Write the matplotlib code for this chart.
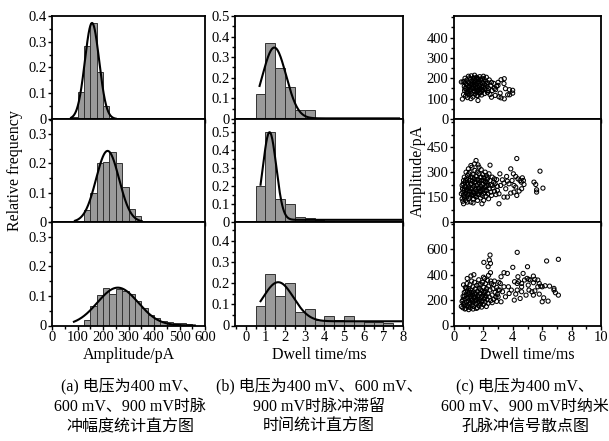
import numpy as np
import matplotlib
matplotlib.use("Agg")
import matplotlib.pyplot as plt
from matplotlib.ticker import MultipleLocator, FixedLocator, FuncFormatter

plt.rcParams['font.family'] = ['Liberation Serif', 'Noto Sans CJK SC']
plt.rcParams['font.size'] = 10

# ============================================================
# DATA
# ============================================================

# (a) amplitude histograms, bin width 25 pA
amp_w = 25
amp400_edges = [75, 100, 125, 150, 175, 200]
amp400_freq  = [0.006, 0.106, 0.284, 0.373, 0.183, 0.049]
amp600_edges = [125, 150, 175, 200, 225, 250, 275, 300, 325]
amp600_freq  = [0.042, 0.10, 0.20, 0.205, 0.24, 0.20, 0.12, 0.045, 0.02]
amp900_edges = [125, 150, 175, 200, 225, 250, 275, 300, 325, 350, 375,
                400, 425, 450, 475, 500, 525]
amp900_freq  = [0.018, 0.066, 0.104, 0.127, 0.107, 0.124, 0.118, 0.107,
                0.084, 0.058, 0.037, 0.025, 0.016, 0.012, 0.010, 0.008, 0.006]

# gaussian fits: (y0, A, mu, sigma, x_start, x_end)
amp400_fit = (0.0, 0.373, 157, 28, 75, 250)
amp600_fit = (0.0, 0.243, 218, 45, 90, 352)
amp900_fit = (0.0, 0.128, 258, 80, 86, 560)

# (b) dwell time histograms, bin width 0.5 ms
dw_w = 0.5
dw400_edges = [0.5, 1.0, 1.5, 2.0, 2.5, 3.0]
dw400_freq  = [0.122, 0.37, 0.248, 0.153, 0.042, 0.042]
dw600_edges = [0.5, 1.0, 1.5, 2.0, 2.5, 3.0, 3.5, 4.0]
dw600_freq  = [0.20, 0.496, 0.125, 0.098, 0.027, 0.02, 0.012, 0.008]
dw900_edges = [0.5, 1.0, 1.5, 2.0, 2.5, 3.0, 3.5, 4.0, 4.5, 5.0, 5.5,
               6.0, 6.5, 7.0]
dw900_freq  = [0.091, 0.243, 0.142, 0.203, 0.066, 0.077, 0.025, 0.047,
               0.025, 0.043, 0.02, 0.015, 0.015, 0.01]

dw400_fit = (0.003, 0.344, 1.45, 0.60, 0.7, 7.8)
dw600_fit = (0.012, 0.485, 1.21, 0.34, 0.75, 7.9)
dw900_fit = (0.020, 0.185, 1.65, 0.78, 0.75, 7.9)

# (c) scatter: (dwell time ms, amplitude pA)
sc400_pts = [
    (0.62, 182), (0.65, 120), (0.7, 160), (0.72, 140), (0.75, 200), (0.78, 112),
    (0.8, 175), (0.82, 150), (0.85, 128), (0.88, 192), (0.9, 165), (0.92, 105),
    (0.95, 145), (0.98, 210), (1.0, 180), (1.02, 135), (1.05, 158), (1.08, 118),
    (1.1, 195), (1.12, 170), (1.15, 142), (1.18, 212), (1.2, 125), (1.22, 185),
    (1.25, 152), (1.28, 108), (1.3, 200), (1.32, 165), (1.35, 138), (1.38, 178),
    (1.4, 215), (1.42, 122), (1.45, 190), (1.48, 148), (1.5, 168), (1.52, 205),
    (1.55, 132), (1.58, 175), (1.6, 155), (1.62, 115), (1.65, 195), (1.68, 142),
    (1.7, 182), (1.72, 162), (1.75, 208), (1.78, 128), (1.8, 172), (1.82, 150),
    (1.85, 190), (1.88, 118), (1.9, 160), (1.92, 200), (1.95, 140), (1.98, 178),
    (2.0, 155), (2.05, 195), (2.08, 125), (2.1, 168), (2.15, 185), (2.18, 145),
    (2.2, 205), (2.25, 160), (2.28, 130), (2.3, 178), (2.35, 150), (2.4, 192),
    (2.45, 120), (2.5, 165), (2.55, 180), (2.6, 140), (1.05, 202), (1.25, 172),
    (1.35, 190), (0.85, 170), (1.55, 115), (1.15, 100), (0.95, 128), (1.7, 128),
    (2.0, 210), (1.45, 160), (1.6, 200), (0.7, 185), (1.85, 135), (2.7, 175),
    (2.75, 150), (2.9, 160), (3.0, 180), (3.2, 193), (3.4, 174), (3.5, 149),
    (3.77, 144), (3.99, 141), (3.79, 119), (3.99, 127), (3.06, 109), (3.2, 104),
    (3.42, 99), (3.65, 119), (3.14, 127), (2.8, 116), (2.55, 107), (2.83, 144),
    (2.99, 165), (3.42, 198), (0.57, 98), (0.5, 182), (1.63, 91),
    (0.75, 150), (0.9, 135), (1.0, 160), (1.1, 145), (1.2, 170), (1.3, 150),
    (1.4, 135), (1.5, 185), (1.6, 140), (1.7, 165), (1.8, 195), (1.9, 145),
    (2.1, 150), (2.2, 175), (2.3, 140), (1.0, 125), (1.4, 200), (1.75, 150),
]

sc600_pts = [
    (0.5, 170), (0.55, 140), (0.58, 200), (0.6, 125), (0.62, 230), (0.65, 160),
    (0.68, 190), (0.7, 270), (0.72, 145), (0.75, 215), (0.78, 175), (0.8, 250),
    (0.8, 130), (0.82, 300), (0.85, 195), (0.88, 155), (0.9, 235), (0.92, 280),
    (0.95, 170), (0.98, 320), (1.0, 140), (1.0, 210), (1.02, 260), (1.05, 185),
    (1.08, 300), (1.1, 150), (1.12, 230), (1.15, 120), (1.15, 270), (1.18, 200),
    (1.2, 165), (1.22, 330), (1.25, 245), (1.28, 180), (1.3, 285), (1.32, 140),
    (1.35, 215), (1.38, 260), (1.4, 170), (1.42, 310), (1.45, 195), (1.48, 240),
    (1.5, 150), (1.5, 275), (1.52, 220), (1.55, 185), (1.58, 300), (1.6, 130),
    (1.62, 255), (1.65, 205), (1.68, 165), (1.7, 290), (1.72, 235), (1.75, 180),
    (1.78, 270), (1.8, 145), (1.82, 215), (1.85, 315), (1.88, 250), (1.9, 190),
    (1.92, 160), (1.95, 285), (1.98, 230), (2.0, 200), (2.02, 130), (2.05, 265),
    (2.08, 175), (2.1, 245), (2.12, 300), (2.15, 210), (2.18, 155), (2.2, 280),
    (2.22, 190), (2.25, 235), (2.28, 260), (2.3, 170), (2.32, 220), (2.35, 140),
    (2.38, 290), (2.4, 200), (2.45, 250), (2.5, 180), (2.52, 225), (2.55, 160),
    (2.6, 270), (2.65, 205), (2.7, 240), (2.75, 185), (2.8, 230), (2.85, 165),
    (2.9, 255), (0.65, 110), (0.9, 120), (1.3, 115), (1.9, 110), (0.75, 240),
    (1.0, 290), (1.25, 205), (1.45, 160), (1.7, 200), (2.0, 170), (0.55, 220),
    (1.1, 250), (1.35, 175), (0.85, 260), (1.6, 225), (1.95, 195), (2.25, 270),
    (1.15, 340), (1.4, 350), (1.7, 330), (2.6, 220), (2.75, 260), (2.95, 215),
    (1.5, 370), (1.63, 344), (2.45, 342), (4.27, 382), (3.86, 320), (3.12, 290),
    (4.04, 290), (4.2, 274), (4.35, 260), (4.49, 250), (4.58, 240), (4.65, 266),
    (4.2, 210), (4.27, 160), (4.43, 186), (4.08, 180), (3.86, 174), (3.63, 150),
    (3.52, 200), (3.4, 234), (3.17, 220), (3.29, 254), (3.06, 110), (3.06, 170),
    (2.95, 190), (4.76, 226), (4.6, 200), (4.72, 250), (5.44, 240), (5.56, 226),
    (5.62, 194), (5.62, 180), (5.85, 306), (6.05, 204), (3.63, 246), (3.58, 274),
    (3.74, 230), (3.95, 250), (4.08, 220), (3.4, 150),
    (0.6, 180), (0.7, 150), (0.8, 210), (0.9, 185), (1.0, 165), (1.1, 200),
    (1.2, 230), (1.3, 160), (1.4, 240), (1.5, 200), (1.6, 170), (1.7, 250),
    (1.8, 190), (1.9, 225), (2.0, 250), (2.1, 190), (2.2, 220), (0.65, 250),
    (0.95, 225), (1.25, 270), (1.55, 255), (1.85, 270), (2.15, 240), (0.7, 200),
]

sc900_pts = [
    (0.5, 150), (0.55, 190), (0.6, 140), (0.62, 230), (0.65, 170), (0.7, 260),
    (0.72, 155), (0.75, 210), (0.78, 300), (0.8, 135), (0.82, 240), (0.85, 185),
    (0.88, 330), (0.9, 160), (0.92, 270), (0.95, 215), (0.98, 145), (1.0, 290),
    (1.0, 195), (1.02, 250), (1.05, 170), (1.08, 320), (1.1, 225), (1.12, 140),
    (1.15, 280), (1.18, 200), (1.2, 350), (1.22, 160), (1.25, 240), (1.28, 305),
    (1.3, 185), (1.32, 265), (1.35, 150), (1.38, 220), (1.4, 340), (1.42, 195),
    (1.45, 290), (1.48, 170), (1.5, 250), (1.52, 135), (1.55, 315), (1.58, 210),
    (1.6, 270), (1.62, 180), (1.65, 235), (1.68, 360), (1.7, 155), (1.72, 290),
    (1.75, 205), (1.78, 250), (1.8, 170), (1.82, 325), (1.85, 225), (1.88, 145),
    (1.9, 275), (1.92, 195), (1.95, 340), (1.98, 240), (2.0, 165), (2.02, 300),
    (2.05, 210), (2.08, 370), (2.1, 260), (2.12, 185), (2.15, 330), (2.18, 230),
    (2.2, 150), (2.22, 290), (2.25, 205), (2.28, 355), (2.3, 250), (2.32, 175),
    (2.35, 310), (2.4, 225), (2.45, 280), (2.5, 195), (2.55, 330), (2.6, 240),
    (2.65, 290), (2.7, 205), (2.75, 350), (2.8, 260), (2.85, 225), (2.9, 300),
    (2.95, 245), (0.65, 320), (0.9, 370), (1.15, 390), (1.35, 400), (0.75, 130),
    (1.0, 125), (1.3, 130), (1.6, 140), (2.0, 380), (2.35, 395), (1.45, 230),
    (1.85, 190), (2.15, 270), (1.05, 260), (0.85, 290), (1.7, 320), (2.5, 350),
    (2.7, 320), (3.0, 280), (3.05, 340), (2.6, 180), (2.9, 190),
    (2.45, 555), (2.4, 516), (2.03, 497), (2.32, 463), (2.48, 489), (2.48, 416),
    (4.3, 576), (6.3, 508), (7.1, 521), (4.0, 458), (5.0, 463), (3.4, 416),
    (3.63, 410), (3.2, 384), (4.12, 345), (4.3, 331), (4.4, 345), (4.6, 331),
    (4.8, 358), (4.97, 371), (5.1, 363), (5.2, 358), (5.4, 389), (5.5, 363),
    (5.7, 358), (5.8, 331), (5.4, 337), (5.7, 305), (5.9, 310), (6.0, 305),
    (6.2, 313), (6.5, 310), (6.8, 292), (6.9, 258), (7.1, 239), (6.8, 279),
    (6.4, 192), (6.1, 218), (5.8, 247), (5.4, 239), (5.1, 279), (4.9, 239),
    (4.6, 266), (4.5, 213), (4.2, 247), (4.1, 200), (4.3, 279), (3.9, 279),
    (3.7, 305), (3.75, 252), (3.5, 226), (3.3, 266), (3.4, 305), (3.15, 331),
    (3.1, 279), (3.0, 226), (3.2, 187), (6.0, 187), (5.3, 266), (5.5, 273),
    (5.05, 318), (4.6, 305), (4.35, 384), (4.7, 410),
    (0.6, 200), (0.7, 180), (0.8, 270), (0.9, 220), (1.0, 240), (1.1, 180),
    (1.2, 260), (1.3, 220), (1.4, 250), (1.5, 200), (1.6, 230), (1.7, 190),
    (1.8, 280), (1.9, 230), (2.0, 260), (2.1, 220), (0.7, 230), (1.25, 200),
]

captions = [
    "(a) 电压为400 mV、\n600 mV、900 mV时脉\n冲幅度统计直方图",
    "(b) 电压为400 mV、600 mV、\n900 mV时脉冲滞留\n时间统计直方图",
    "(c) 电压为400 mV、\n600 mV、900 mV时纳米\n孔脉冲信号散点图",
]

# labelled y ticks of each scatter panel
sc400_yticks = [0, 100, 200, 300, 400]
sc600_yticks = [0, 150, 300, 450]
sc900_yticks = [0, 200, 400, 600]

# ============================================================
# LAYOUT (pixel boxes of the reference)
# ============================================================

W, H = 609, 441
fig = plt.figure(figsize=(W / 100, H / 100), dpi=100)

rows_px = [(16, 119), (119, 222), (222, 325.5)]
cols_px = [(52, 205), (235, 403), (454, 601)]


def make_ax(col, row):
    x0, x1 = cols_px[col]
    y0, y1 = rows_px[row]
    return fig.add_axes([x0 / W, 1 - y1 / H, (x1 - x0) / W, (y1 - y0) / H])


fmt = FuncFormatter(lambda v, p: '%g' % round(v, 3))


def style(ax, xlim, xmaj, xmin, ylim, ymaj, ymin, bottom):
    ax.set_xlim(*xlim)
    ax.set_ylim(*ylim)
    ax.xaxis.set_major_locator(MultipleLocator(xmaj))
    ax.xaxis.set_minor_locator(MultipleLocator(xmin))
    if isinstance(ymaj, list):
        ax.yaxis.set_major_locator(FixedLocator(ymaj))
    else:
        ax.yaxis.set_major_locator(MultipleLocator(ymaj))
    ax.yaxis.set_minor_locator(MultipleLocator(ymin))
    ax.yaxis.set_major_formatter(fmt)
    ax.xaxis.set_major_formatter(fmt)
    ax.tick_params(which='both', direction='out', top=False, right=False,
                   labelsize=10.5, pad=1, width=1)
    ax.tick_params(which='major', length=3)
    ax.tick_params(which='minor', length=2)
    if not bottom:
        ax.tick_params(axis='x', labelbottom=False)
    for s in ax.spines.values():
        s.set_linewidth(1.3)


def draw_hist(ax, edges, freq, w, fit):
    ax.bar(edges, freq, width=w, align='edge', color='#9a9a9a',
           edgecolor='#333333', linewidth=0.7)
    y0, A, mu, sig, xs, xe = fit
    xx = np.linspace(xs, xe, 300)
    ax.plot(xx, y0 + A * np.exp(-(xx - mu) ** 2 / (2 * sig ** 2)),
            color='black', linewidth=1.5)


# ---------------- (a) ----------------
amp_sets = [(amp400_edges, amp400_freq, amp400_fit, 0.4),
            (amp600_edges, amp600_freq, amp600_fit, 0.352),
            (amp900_edges, amp900_freq, amp900_fit, 0.35)]
for r, (e, f, fit, ytop) in enumerate(amp_sets):
    ax = make_ax(0, r)
    draw_hist(ax, e, f, amp_w, fit)
    style(ax, (0, 600), 100, 50, (0, ytop), 0.1, 0.05, r == 2)
    if r == 1:
        ax.set_ylabel('Relative frequency', fontsize=11.5)
        ax.yaxis.set_label_coords(-0.19, 0.5)
    if r == 2:
        ax.set_xlabel('Amplitude/pA', fontsize=11.5, labelpad=2)

# ---------------- (b) ----------------
dw_sets = [(dw400_edges, dw400_freq, dw400_fit, 0.5),
           (dw600_edges, dw600_freq, dw600_fit, 0.57),
           (dw900_edges, dw900_freq, dw900_fit, 0.49)]
for r, (e, f, fit, ytop) in enumerate(dw_sets):
    ax = make_ax(1, r)
    draw_hist(ax, e, f, dw_w, fit)
    style(ax, (-0.55, 8), 1, 0.5, (0, ytop), 0.1, 0.05, r == 2)
    if r == 2:
        ax.set_xlabel('Dwell time/ms', fontsize=11.5, labelpad=2)

# ---------------- (c) ----------------
sc_sets = [(sc400_pts, 506, sc400_yticks, 50),
           (sc600_pts, 620, sc600_yticks, 75),
           (sc900_pts, 815, sc900_yticks, 100)]
for r, (pts, ytop, yt, ymin) in enumerate(sc_sets):
    ax = make_ax(2, r)
    p = np.array(pts)
    ax.scatter(p[:, 0], p[:, 1], s=9, facecolors='none', edgecolors='black',
               linewidths=0.75)
    style(ax, (0, 10), 2, 1, (0, ytop), yt, ymin, r == 2)
    if r == 1:
        ax.set_ylabel('Amplitude/pA', fontsize=11.5)
        ax.yaxis.set_label_coords(-0.19, 0.5)
    if r == 2:
        ax.set_xlabel('Dwell time/ms', fontsize=11.5, labelpad=2)

# ---------------- captions ----------------
for cx, txt in zip([130, 319, 525], captions):
    fig.text(cx / W, 1 - 378 / H, txt, ha='center', va='top',
             fontsize=11.5, linespacing=1.35)

fig.savefig('out.png', dpi=100)
